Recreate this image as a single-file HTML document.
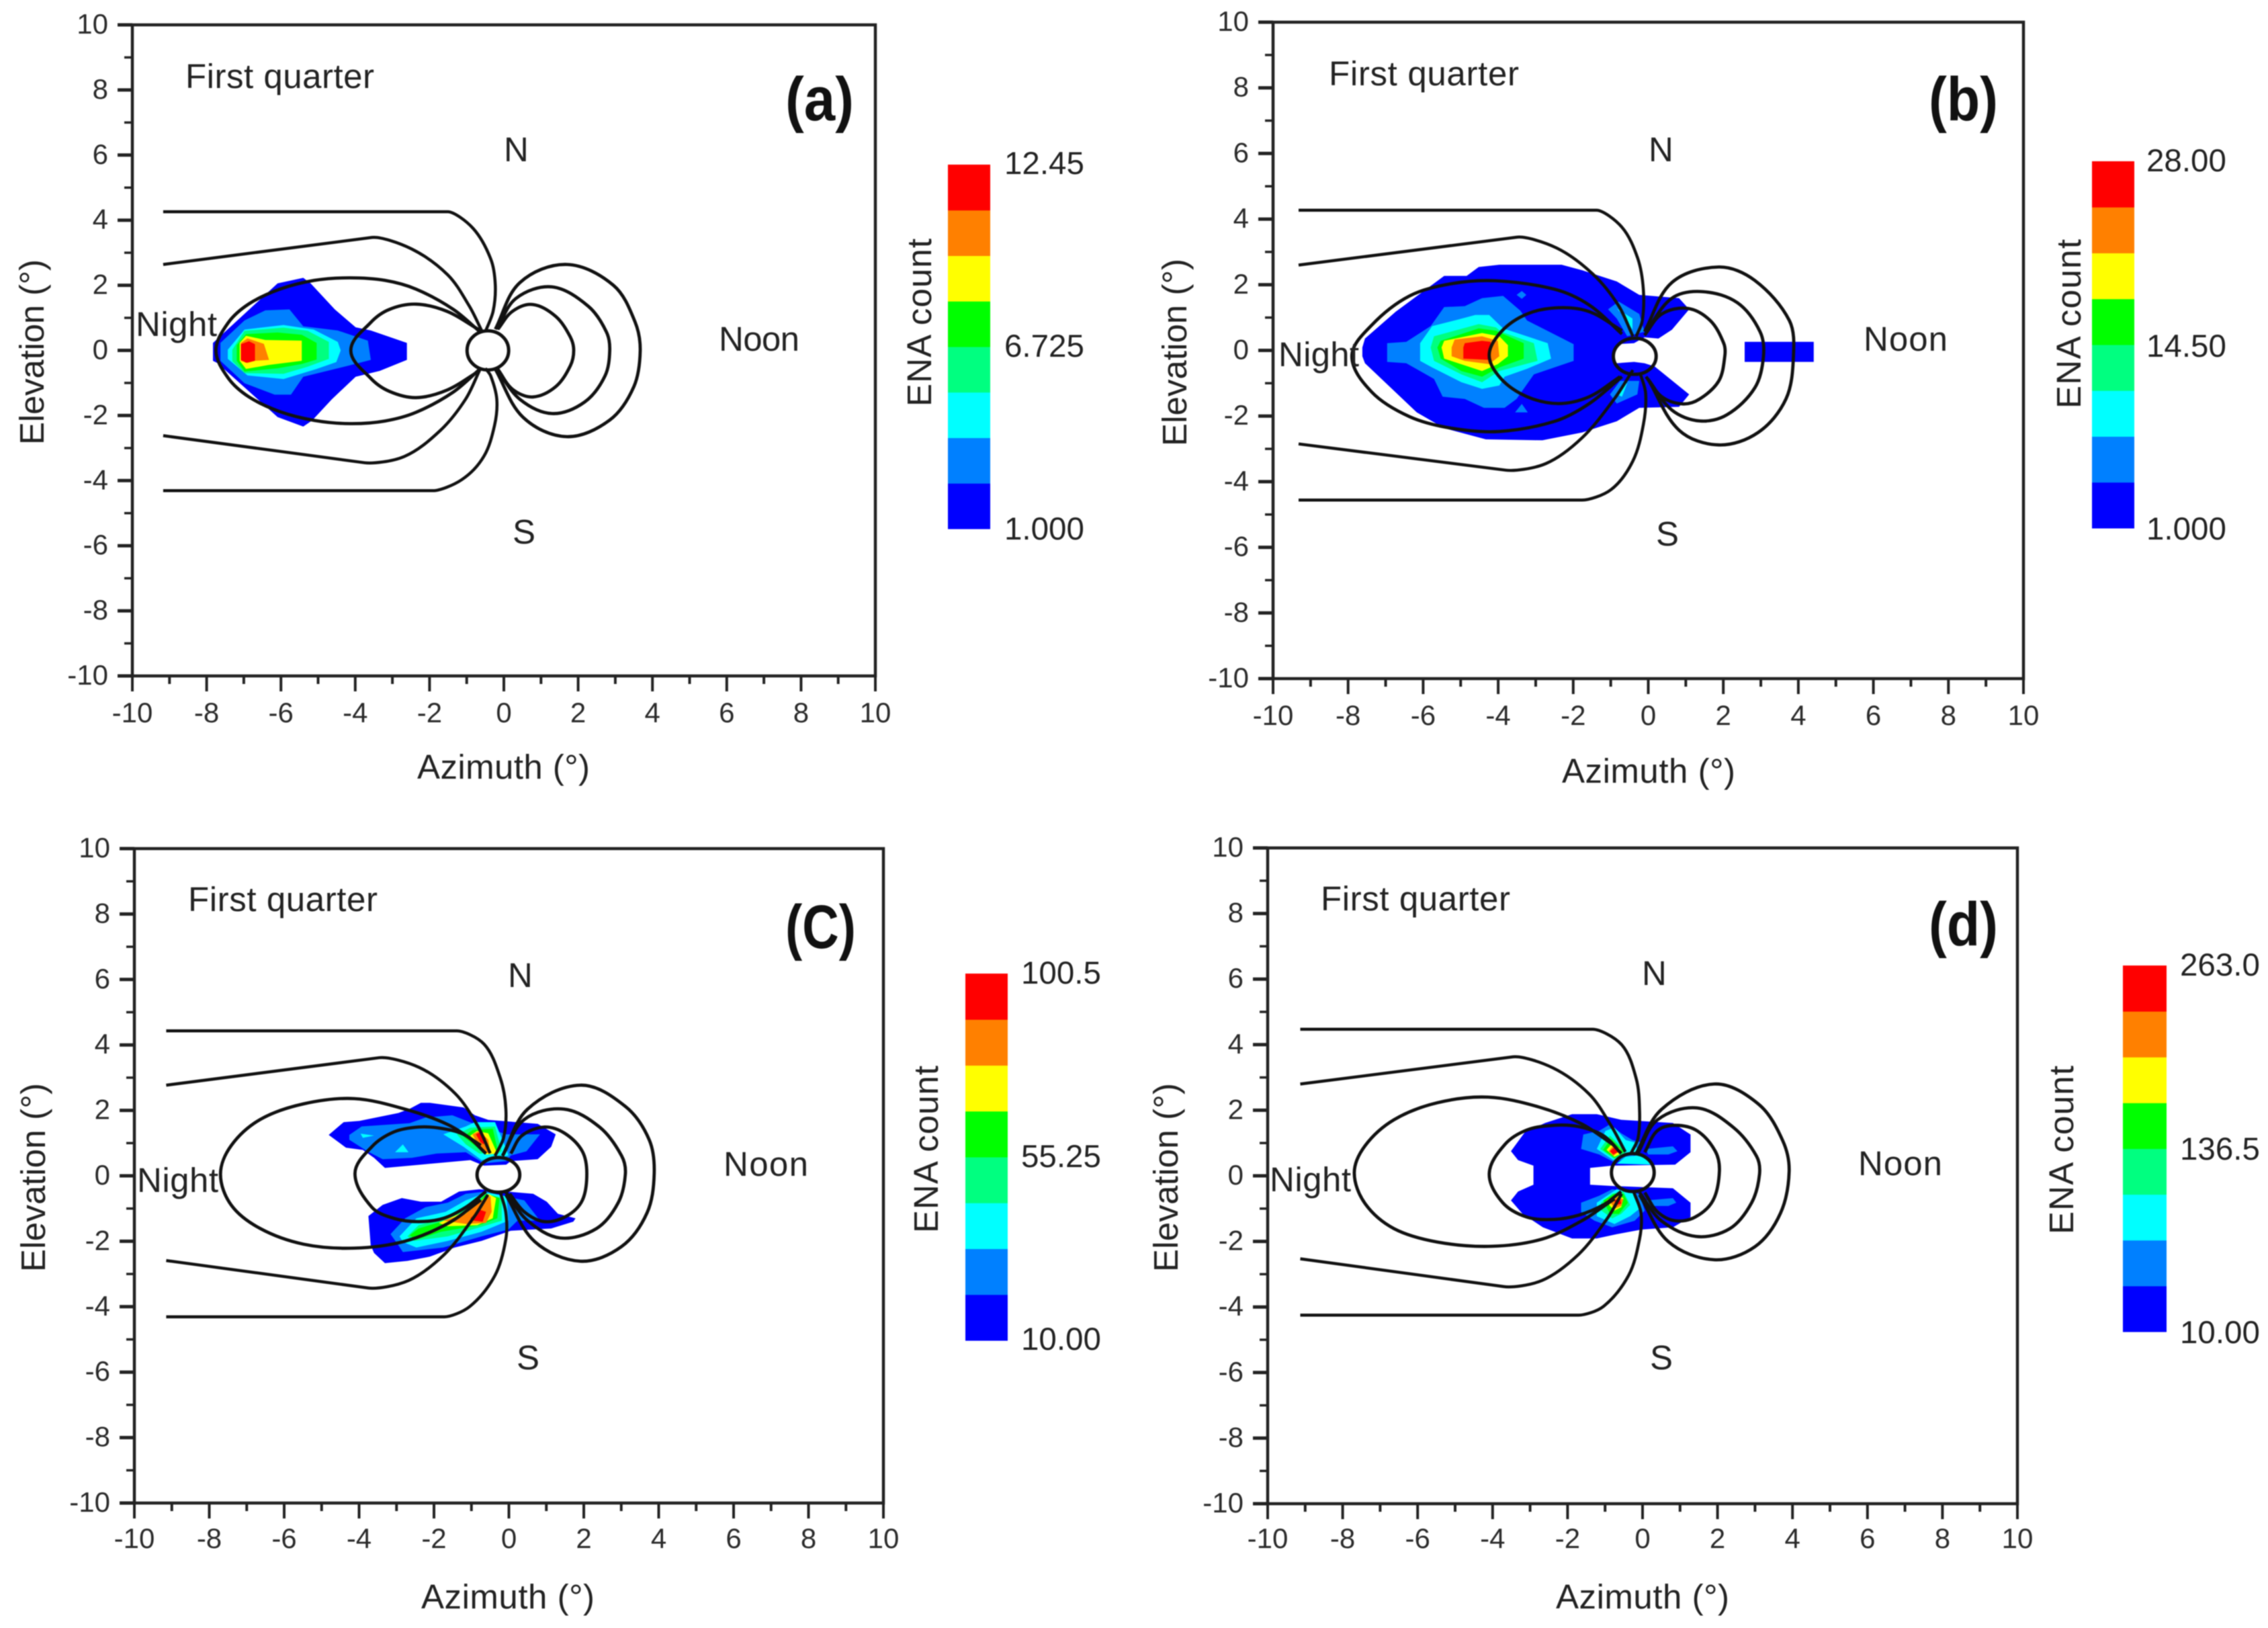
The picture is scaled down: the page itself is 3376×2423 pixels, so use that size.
<!DOCTYPE html>
<html lang="en">
<head>
<meta charset="utf-8">
<title>ENA count images, first quarter</title>
<style>
html,body{margin:0;padding:0;background:#fff;}
svg{display:block;filter:blur(.7px);}
text{font-family:"Liberation Sans",Arial,sans-serif;fill:#222;}
.lab{font-size:51px;}
.cb{font-size:47.5px;}
.tag{font-size:92px;font-weight:bold;fill:#111;}
.tick{font-size:42px;fill:#2a2a2a;}
</style>
</head>
<body>
<svg id="figure" xmlns="http://www.w3.org/2000/svg" width="3376" height="2423" viewBox="0 0 3376 2423">
<rect x="0" y="0" width="3376" height="2423" fill="#fff"/>
<g id="panel-0"></g>
<g id="panel-1"></g>
<g id="panel-2"></g>
<g id="panel-3"></g>

<g>
<text class="lab" x="276" y="131" textLength="281">First quarter</text>
<text class="lab" x="750" y="240">N</text>
<text class="lab" x="763" y="809">S</text>
<text class="lab" x="202" y="500" textLength="121">Night</text>
<text class="lab" x="1070" y="522" textLength="120">Noon</text>
<text class="tag" x="1169" y="179" textLength="102" lengthAdjust="spacingAndGlyphs">(a)</text>
<text class="lab" x="621" y="1159" textLength="257">Azimuth (°)</text>
<text class="lab" transform="translate(65 662) rotate(-90)" textLength="276">Elevation (°)</text>
<text class="lab" transform="translate(1386 605) rotate(-90)" textLength="250">ENA count</text>
</g>
<g>
<text class="lab" x="1978" y="127" textLength="283">First quarter</text>
<text class="lab" x="2454" y="240">N</text>
<text class="lab" x="2465" y="812">S</text>
<text class="lab" x="1903" y="545" textLength="120">Night</text>
<text class="lab" x="2774" y="522" textLength="125">Noon</text>
<text class="tag" x="2871" y="179" textLength="103" lengthAdjust="spacingAndGlyphs">(b)</text>
<text class="lab" x="2325" y="1165" textLength="258">Azimuth (°)</text>
<text class="lab" transform="translate(1766 664) rotate(-90)" textLength="279">Elevation (°)</text>
<text class="lab" transform="translate(3097 608) rotate(-90)" textLength="252">ENA count</text>
</g>
<g>
<text class="lab" x="280" y="1356" textLength="282">First quarter</text>
<text class="lab" x="756" y="1469">N</text>
<text class="lab" x="769" y="2038">S</text>
<text class="lab" x="204" y="1774" textLength="121">Night</text>
<text class="lab" x="1077" y="1750" textLength="126">Noon</text>
<text class="tag" x="1169" y="1411" textLength="105" lengthAdjust="spacingAndGlyphs">(C)</text>
<text class="lab" x="627" y="2394" textLength="258">Azimuth (°)</text>
<text class="lab" transform="translate(67 1893) rotate(-90)" textLength="281">Elevation (°)</text>
<text class="lab" transform="translate(1396 1835) rotate(-90)" textLength="249">ENA count</text>
</g>
<g>
<text class="lab" x="1966" y="1355" textLength="282">First quarter</text>
<text class="lab" x="2444" y="1466">N</text>
<text class="lab" x="2456" y="2038">S</text>
<text class="lab" x="1890" y="1773" textLength="121">Night</text>
<text class="lab" x="2766" y="1749" textLength="125">Noon</text>
<text class="tag" x="2871" y="1407" textLength="103" lengthAdjust="spacingAndGlyphs">(d)</text>
<text class="lab" x="2316" y="2394" textLength="258">Azimuth (°)</text>
<text class="lab" transform="translate(1753 1893) rotate(-90)" textLength="281">Elevation (°)</text>
<text class="lab" transform="translate(3086 1837) rotate(-90)" textLength="251">ENA count</text>
</g>
</svg>

<script>
// ---- axis data ----
const axisTicks = [-10,-9,-8,-7,-6,-5,-4,-3,-2,-1,0,1,2,3,4,5,6,7,8,9,10];
const axisTickLabels = ['-10','-8','-6','-4','-2','0','2','4','6','8','10'];

// ---- colour bar data (bottom to top) ----
const levelColors = ['#0000ff','#0080ff','#00ffff','#00ff80','#00ff00','#ffff00','#ff8000','#ff0000'];
const colorbarLabelsA = ['12.45','6.725','1.000'];
const colorbarLabelsB = ['28.00','14.50','1.000'];
const colorbarLabelsC = ['100.5','55.25','10.00'];
const colorbarLabelsD = ['263.0','136.5','10.00'];

// ---- filled contours: [level index, [azimuth, elevation] vertices] ----
const contoursA = [
[0,[[-7.83,.23],[-6.09,2.06],[-5.4,2.23],[-5.2,2.06],[-4.55,1.26],[-3.99,.71],[-3.58,.61],[-2.61,.23],[-2.61,-.29],[-3.34,-.63],[-3.99,-.81],[-4.63,-1.5],[-5.16,-2.15],[-5.4,-2.34],[-6.09,-2.05],[-7.71,-.39],[-7.83,-.32]]],
[1,[[-7.63,.23],[-6.98,.92],[-6.42,1.23],[-5.77,1.26],[-5.4,.74],[-4.47,.61],[-3.66,.3],[-3.58,-.29],[-4.15,-.46],[-5.4,-.81],[-5.73,-1.36],[-6.17,-1.36],[-6.98,-1.01],[-7.63,-.32]]],
[2,[[-7.43,.02],[-6.98,.64],[-5.93,.78],[-5.12,.64],[-4.47,.26],[-4.39,0],[-4.51,-.36],[-5.04,-.57],[-5.93,-.88],[-6.9,-.77],[-7.43,-.26]]],
[3,[[-7.31,.02],[-6.98,.6],[-5.93,.7],[-5.28,.6],[-4.71,.26],[-4.71,-.26],[-5.28,-.5],[-5.93,-.72],[-6.98,-.7],[-7.31,-.33]]],
[4,[[-7.19,.16],[-6.94,.5],[-6.09,.55],[-5.44,.48],[-5.04,.23],[-5.04,-.28],[-5.44,-.42],[-6.09,-.55],[-6.98,-.65],[-7.19,-.32]]],
[5,[[-7.11,.23],[-6.94,.45],[-6.42,.32],[-5.44,.3],[-5.44,-.32],[-6.34,-.45],[-6.94,-.57],[-7.11,-.32]]],
[6,[[-7.08,.23],[-6.9,.37],[-6.46,.2],[-6.32,-.29],[-6.7,-.32],[-6.9,-.39],[-7.08,-.32]]],
[7,[[-7.08,.19],[-6.86,.28],[-6.7,.19],[-6.7,-.32],[-6.94,-.38],[-7.08,-.29]]]
];
const contoursB = [
[0,[[-7.62,.09],[-7.55,.36],[-6.73,1.18],[-5.44,2.27],[-4.84,2.27],[-4.52,2.54],[-3.97,2.61],[-2.31,2.61],[-1.76,2.44],[-.84,2.1],[-.24,1.69],[.82,1.59],[1.09,1.25],[.63,.63],[.27,.36],[-.1,.4],[-.38,.22],[-.84,.19],[-.95,-.12],[-.84,-.39],[-.38,-.35],[-.1,-.39],[.17,-.49],[1.09,-1.34],[.82,-1.72],[-.24,-1.75],[-.84,-2.16],[-1.76,-2.5],[-2.82,-2.74],[-4.33,-2.71],[-5.44,-2.37],[-6.17,-1.89],[-7.55,-.39],[-7.62,-.18]]],
[0,[[2.57,.26],[4.41,.26],[4.41,-.35],[2.57,-.35]]],
[1,[[-6.96,.22],[-6.45,.26],[-5.8,.74],[-5.44,1.32],[-4.89,1.35],[-4.43,1.59],[-3.87,1.66],[-3.41,1.21],[-3.23,.91],[-1.99,.19],[-1.99,-.32],[-3.05,-.73],[-3.51,-1.48],[-3.83,-1.75],[-4.38,-1.75],[-4.89,-1.48],[-5.48,-1.41],[-5.71,-.87],[-6.45,-.39],[-6.96,-.35]]],
[1,[[-1.07,1.25],[-.79,1.49],[-.24,1.11],[-.1,.57],[-.56,.43],[-.84,.97]]],
[1,[[-1.02,-1.34],[-.75,-.93],[-.24,-.93],[-.29,-1.34],[-.84,-1.62]]],
[1,[[-3.51,1.69],[-3.37,1.81],[-3.25,1.69],[-3.37,1.57]]],
[1,[[-3.55,-1.89],[-3.37,-1.63],[-3.21,-1.89]]],
[2,[[-.84,1.28],[-.42,.97],[-.42,.63],[-.65,1.05]]],
[2,[[-.7,-1.07],[-.56,-1.0],[-.7,-1.41],[-.84,-1.34]]],
[2,[[-6.08,.22],[-5.76,.74],[-5.07,.94],[-4.61,1.08],[-4.24,1.08],[-3.87,.67],[-2.68,.22],[-2.59,-.25],[-3.23,-.56],[-3.83,-.8],[-3.97,-1.07],[-4.43,-1.17],[-4.98,-.97],[-5.76,-.52],[-6.08,-.32]]],
[3,[[-5.8,.09],[-5.71,.43],[-4.52,.8],[-4.06,.7],[-3.92,.57],[-3.05,.22],[-2.95,-.32],[-3.97,-.63],[-4.43,-.97],[-4.98,-.73],[-5.71,-.32]]],
[4,[[-5.62,.09],[-5.53,.29],[-4.52,.67],[-4.06,.6],[-3.32,.22],[-3.32,-.25],[-3.97,-.52],[-4.43,-.8],[-4.98,-.63],[-5.53,-.25]]],
[5,[[-5.51,.09],[-5.44,.29],[-4.43,.53],[-3.97,.43],[-3.74,.16],[-3.74,-.18],[-4.01,-.42],[-4.43,-.63],[-5.44,-.25]]],
[6,[[-5.24,.09],[-5.16,.33],[-4.43,.43],[-4.01,.29],[-3.97,-.18],[-4.24,-.42],[-4.89,-.32],[-5.24,-.18]]],
[7,[[-4.93,.09],[-4.89,.22],[-4.43,.29],[-4.2,.26],[-4.2,-.29],[-4.93,-.25]]]
];
const contoursC = [
[0,[[-4.81,1.25],[-4.41,1.64],[-3.99,1.68],[-2.95,1.92],[-2.65,2.05],[-2.35,2.23],[-2.11,2.23],[-1.21,2.09],[-.91,1.85],[-.55,1.71],[.77,1.59],[1.25,1.27],[1.13,.89],[.77,.51],[.05,.45],[-.07,.34],[-.67,.31],[-1.03,.48],[-1.99,.38],[-3.31,.24],[-3.6,.55],[-3.9,.79],[-4.35,.86]]],
[1,[[-4.26,1.25],[-3.93,1.51],[-2.65,1.61],[-2.23,1.78],[-1.51,1.85],[-.91,1.58],[-.07,1.27],[.83,1.27],[.47,.75],[.05,.62],[-.07,.45],[-.67,.38],[-1.15,.72],[-1.93,.68],[-2.59,.55],[-3.37,.51],[-3.78,.75],[-4.26,1.1]]],
[2,[[-3.96,1.29],[-3.6,1.23],[-3.9,1.16]]],
[2,[[-3.04,.72],[-2.83,.96],[-2.68,.72]]],
[2,[[-1.75,1.27],[-1.15,1.51],[-.91,1.64],[-.37,1.64],[-.07,.82],[-.01,.62],[-.31,.55],[-.73,.48],[-1.21,.89]]],
[3,[[-1.39,1.27],[-1.03,1.47],[-.37,1.51],[-.19,.75],[-.31,.68],[-.79,.68],[-1.15,.96]]],
[4,[[-1.21,1.2],[-.97,1.4],[-.43,1.44],[-.28,.68],[-.61,.65],[-1.03,1.03]]],
[5,[[-1.03,1.23],[-.85,1.37],[-.55,1.3],[-.31,.68],[-.61,.65],[-.88,.96]]],
[6,[[-.97,1.27],[-.79,1.37],[-.55,1.1],[-.49,.68],[-.64,.72],[-.85,1.0]]],
[7,[[-.88,1.27],[-.73,1.36],[-.61,1.13],[-.67,.96],[-.76,1.03]]],
[0,[[-3.75,-1.23],[-3.37,-.89],[-2.86,-.68],[-2.35,-.79],[-1.81,-.79],[-1.33,-.48],[-.79,-.41],[.65,-.55],[1.01,-.79],[1.31,-1.16],[1.78,-1.3],[1.72,-1.4],[1.13,-1.61],[.05,-1.68],[-.73,-1.99],[-1.45,-2.19],[-2.11,-2.47],[-2.71,-2.6],[-3.31,-2.67],[-3.6,-2.36],[-3.69,-2.12]]],
[1,[[-3.16,-1.78],[-2.77,-1.3],[-2.23,-.96],[-1.63,-.82],[-1.15,-.55],[-.61,-.48],[-.13,-.62],[.41,-.75],[.83,-1.37],[.23,-1.37],[-.01,-1.64],[-.73,-1.85],[-1.75,-2.19],[-2.83,-2.33],[-2.95,-2.12]]],
[2,[[-2.92,-1.85],[-2.47,-1.3],[-1.69,-1.1],[-1.15,-.75],[-.61,-.51],[-.07,-.62],[-.01,-1.37],[-.73,-1.71],[-1.63,-1.99],[-2.47,-2.19],[-2.83,-2.02]]],
[3,[[-2.71,-1.85],[-2.41,-1.51],[-1.75,-1.3],[-1.09,-.96],[-.61,-.55],[-.19,-.68],[-.19,-1.37],[-.79,-1.58],[-1.63,-1.85],[-2.53,-1.99]]],
[4,[[-2.65,-1.82],[-2.41,-1.61],[-1.81,-1.4],[-1.03,-1.1],[-.61,-.55],[-.25,-.68],[-.31,-1.3],[-.79,-1.51],[-1.81,-1.71],[-2.47,-1.95]]],
[5,[[-1.87,-1.44],[-1.39,-1.2],[-.91,-.96],[-.55,-.55],[-.34,-.68],[-.43,-1.3],[-.85,-1.51],[-1.63,-1.54]]],
[6,[[-1.75,-1.37],[-1.15,-1.16],[-.73,-.75],[-.49,-.62],[-.46,-1.1],[-.61,-1.44],[-1.15,-1.47]]],
[7,[[-1.03,-1.3],[-.79,-1.03],[-.61,-1.1],[-.7,-1.4],[-.94,-1.37]]]
];
const contoursD = [
[0,[[-3.51,.75],[-3.14,1.33],[-2.6,1.61],[-1.88,1.88],[-1.22,1.88],[-.57,1.71],[.81,1.61],[1.28,1.26],[1.28,.72],[.87,.34],[-.81,.31],[-1.4,.24],[-1.4,-.27],[-.81,-.31],[.81,-.38],[1.28,-.82],[1.28,-1.26],[.81,-1.57],[-.03,-1.64],[-.69,-1.78],[-1.22,-1.91],[-1.88,-1.91],[-2.66,-1.57],[-3.2,-1.16],[-3.51,-.75],[-3.32,-.48],[-2.91,-.27],[-2.91,.31],[-3.32,.48]]],
[1,[[-1.64,.82],[-1.58,1.26],[-1.16,1.37],[-.87,1.57],[-.57,1.3],[-.27,1.09],[-.03,1.02],[-.09,.68],[-.75,.41],[-1.16,.65]]],
[1,[[.09,.82],[.81,.9],[.93,.75],[.69,.65],[.15,.65]]],
[1,[[-1.64,-.82],[-1.16,-.61],[-.81,-.41],[-.45,-.48],[-.09,-.55],[.06,-1.06],[-.21,-1.37],[-.81,-1.57],[-1.28,-1.37],[-1.64,-1.1]]],
[1,[[.09,-.75],[.81,-.68],[.9,-.82],[.69,-.92],[.21,-.92]]],
[2,[[-.69,.37],[-.45,.58],[.03,.65],[.21,.34]]],
[2,[[-1.22,.82],[-.99,1.37],[-.75,1.47],[-.45,1.09],[-.21,1.02],[-.12,.72],[-.57,.61],[-.78,.48]]],
[2,[[-1.22,-.82],[-.87,-.55],[-.69,-.41],[-.21,-.55],[-.03,-.96],[-.33,-1.23],[-.75,-1.47],[-1.22,-1.23]]],
[3,[[-1.13,.82],[-.87,1.23],[-.57,.89],[-.45,.72],[-.75,.51]]],
[3,[[-1.11,-.82],[-.81,-.55],[-.51,-.48],[-.33,-.89],[-.57,-1.16],[-.81,-1.3],[-1.1,-1.06]]],
[4,[[-1.05,.79],[-.84,1.13],[-.57,.82],[-.51,.72],[-.75,.55]]],
[4,[[-1.05,-.75],[-.75,-.55],[-.51,-.55],[-.39,-.82],[-.63,-1.16],[-.87,-1.16]]],
[5,[[-.96,.79],[-.81,.99],[-.6,.82],[-.57,.68],[-.75,.58]]],
[5,[[-.96,-.75],[-.69,-.58],[-.51,-.68],[-.57,-.96],[-.75,-1.06],[-.87,-.92]]],
[6,[[-.9,.75],[-.78,.92],[-.63,.75],[-.78,.61]]],
[6,[[-.87,-.79],[-.66,-.65],[-.51,-.72],[-.57,-.92],[-.72,-.99],[-.81,-.89]]],
[7,[[-.87,.75],[-.75,.87],[-.66,.72],[-.78,.65]]],
[7,[[-.75,-.75],[-.6,-.68],[-.57,-.85],[-.72,-.9]]]
];

// ---- tail field lines: the first segment is straight, the rest is a smooth curve ----
const tailLinesA = [
[[-9.17,4.26],[-1.51,4.26],[-.83,3.75],[-.35,2.8],[-.23,2.0],[-.29,1.2],[-.5,.57]],
[[-9.17,-4.31],[-1.9,-4.31],[-1.13,-3.97],[-.54,-3.26],[-.25,-2.3],[-.19,-1.5],[-.35,-.79],[-.5,-.55]],
[[-9.17,2.64],[-3.55,3.47],[-2.49,3.12],[-1.51,2.32],[-.93,1.36],[-.58,.57]],
[[-9.17,-2.62],[-3.75,-3.45],[-2.68,-3.26],[-1.71,-2.46],[-1.03,-1.5],[-.64,-.58]]
];
const tailLinesB = [
[[-9.32,4.27],[-1.38,4.27],[-.7,3.75],[-.28,2.8],[-.13,1.85],[-.16,.9],[-.32,.43]],
[[-9.32,-4.56],[-1.76,-4.56],[-.99,-4.24],[-.41,-3.37],[-.13,-2.26],[-.07,-1.31],[-.22,-.68]],
[[-9.32,2.6],[-3.5,3.45],[-2.44,3.12],[-1.48,2.33],[-.8,1.38],[-.41,.43]],
[[-9.32,-2.85],[-3.79,-3.65],[-2.73,-3.45],[-1.76,-2.66],[-.9,-1.47],[-.41,-.6]]
];
const tailLinesC = [
[[-9.15,4.43],[-1.39,4.43],[-.66,4.02],[-.23,2.99],[-.08,2.04],[-.14,1.17],[-.37,.61]],
[[-9.15,-4.31],[-1.72,-4.31],[-1.04,-3.99],[-.37,-3.04],[-.08,-1.93],[-.08,-1.13],[-.23,-.5]],
[[-9.15,2.77],[-3.46,3.61],[-2.39,3.31],[-1.43,2.51],[-.85,1.56],[-.5,.69]],
[[-9.15,-2.59],[-3.75,-3.43],[-2.68,-3.2],[-1.72,-2.4],[-.95,-1.29],[-.56,-.58]]
];
const tailLinesD = [
[[-9.13,4.47],[-1.33,4.47],[-.56,4.0],[-.17,2.97],[-.08,2.02],[-.12,1.15],[-.31,.68]],
[[-9.13,-4.25],[-1.71,-4.25],[-1.04,-3.98],[-.37,-3.03],[-.08,-1.93],[-.04,-1.14],[-.23,-.51]],
[[-9.13,2.8],[-3.45,3.63],[-2.39,3.29],[-1.43,2.5],[-.85,1.55],[-.46,.73]],
[[-9.13,-2.53],[-3.7,-3.38],[-2.68,-3.19],[-1.71,-2.4],[-.94,-1.3],[-.56,-.55]]
];

// ---- closed dipole loops, root to root ----
const loopsA = [
[[-.62,.55],[-1.36,1.26],[-2.36,1.88],[-3.2,2.15],[-4.15,2.23],[-5.1,2.15],[-6.03,1.88],[-6.86,1.43],[-7.42,.85],[-7.75,0],[-7.42,-.85],[-6.86,-1.43],[-6.03,-1.88],[-5.1,-2.15],[-4.15,-2.25],[-3.2,-2.17],[-2.36,-1.9],[-1.36,-1.28],[-.62,-.55]],
[[-.65,.62],[-1.53,1.2],[-2.36,1.42],[-3.08,1.26],[-3.59,.85],[-4.12,0],[-3.59,-.85],[-3.08,-1.26],[-2.36,-1.45],[-1.53,-1.22],[-.65,-.62]],
[[-.16,.65],[.23,1.2],[.78,1.41],[1.4,1.04],[1.79,.41],[1.88,0],[1.79,-.47],[1.4,-1.11],[.78,-1.43],[.23,-1.19],[-.16,-.58]],
[[-.19,.65],[.33,1.6],[1.3,1.95],[2.27,1.36],[2.76,.57],[2.85,0],[2.72,-.79],[2.17,-1.59],[1.3,-1.94],[.43,-1.5],[-.19,-.58]],
[[-.23,.65],[.43,2.08],[1.69,2.64],[2.95,2.0],[3.53,.88],[3.67,0],[3.5,-1.11],[2.85,-2.14],[1.69,-2.65],[.52,-2.06],[-.23,-.58]]
];
const loopsB = [
[[-.7,.5],[-1.57,1.38],[-2.49,1.86],[-4.06,2.12],[-5.25,2.03],[-6.36,1.66],[-7.37,.77],[-7.9,-.18],[-7.37,-1.27],[-6.36,-2.02],[-5.25,-2.37],[-3.97,-2.47],[-2.49,-2.16],[-1.57,-1.62],[-.7,-.8]],
[[-.7,.6],[-1.57,1.18],[-2.4,1.3],[-3.23,1.11],[-3.92,.57],[-4.24,-.15],[-3.92,-.87],[-3.23,-1.41],[-2.4,-1.62],[-1.57,-1.41],[-.75,-.8]],
[[-.1,.46],[.36,1.11],[1.05,1.28],[1.65,.91],[2.01,.22],[2.04,-.18],[1.88,-.93],[1.37,-1.48],[.91,-1.63],[.36,-1.41],[-.06,-.8]],
[[-.06,.57],[.63,1.59],[1.46,1.79],[2.38,1.45],[2.98,.57],[3.07,-.18],[2.84,-1.14],[2.1,-1.96],[1.37,-2.15],[.63,-1.82],[-.01,-.87]],
[[-.1,.57],[.63,2.07],[1.88,2.54],[2.84,2.13],[3.76,.91],[3.87,-.18],[3.67,-1.48],[2.93,-2.5],[1.88,-2.88],[.82,-2.43],[-.01,-.87]]
];
const loopsC = [
[[-.75,.93],[-1.62,1.56],[-2.78,2.04],[-4.13,2.36],[-5.48,2.2],[-6.64,1.72],[-7.41,.93],[-7.7,.05],[-7.41,-.9],[-6.64,-1.61],[-5.48,-2.09],[-4.13,-2.21],[-2.78,-2.0],[-1.62,-1.45],[-.75,-.74]],
[[-.61,.68],[-1.15,1.23],[-1.75,1.44],[-2.41,1.49],[-3.07,1.34],[-3.66,.89],[-4.11,.07],[-3.66,-.96],[-3.07,-1.3],[-2.41,-1.4],[-1.75,-1.3],[-1.15,-.96],[-.61,-.48]],
[[.05,.68],[.35,1.23],[.95,1.49],[1.49,1.3],[1.96,.75],[2.08,.07],[1.96,-.75],[1.54,-1.23],[.95,-1.4],[.41,-1.1],[.02,-.55]],
[[-.17,.61],[.41,1.72],[1.47,2.04],[2.43,1.48],[3.01,.61],[3.11,.06],[2.92,-.82],[2.34,-1.61],[1.37,-1.9],[.5,-1.37],[-.08,-.5]],
[[-.17,.61],[.5,2.04],[1.91,2.77],[3.11,2.12],[3.75,1.09],[3.88,.06],[3.69,-1.13],[3.01,-2.16],[1.91,-2.61],[.69,-2.01],[-.08,-.58]]
];
const loopsD = [
[[-.75,.92],[-1.62,1.58],[-2.77,2.1],[-4.12,2.4],[-5.47,2.23],[-6.63,1.71],[-7.4,.92],[-7.69,.09],[-7.4,-.85],[-6.63,-1.61],[-5.47,-2.02],[-4.03,-2.15],[-2.68,-1.93],[-1.62,-1.37],[-.75,-.7]],
[[-.57,.68],[-1.05,1.23],[-1.7,1.5],[-2.36,1.54],[-3.08,1.4],[-3.67,.96],[-4.09,.07],[-3.73,-.82],[-3.08,-1.26],[-2.36,-1.33],[-1.7,-1.2],[-1.05,-.89],[-.57,-.48]],
[[.06,.72],[.39,1.37],[.87,1.54],[1.46,1.37],[1.94,.75],[2.05,.14],[1.88,-.75],[1.4,-1.26],[.87,-1.37],[.39,-1.09],[.06,-.51]],
[[-.13,.68],[.4,1.71],[1.46,2.07],[2.43,1.47],[3.04,.6],[3.12,.05],[2.91,-.82],[2.33,-1.61],[1.43,-1.85],[.5,-1.37],[-.08,-.51]],
[[-.17,.68],[.5,2.02],[1.91,2.8],[3.1,2.18],[3.74,1.07],[3.91,.13],[3.68,-1.14],[3.0,-2.16],[1.91,-2.56],[.69,-2.01],[-.08,-.58]]
];

// ---- Earth disc: azimuth, elevation, radius in azimuth, radius in elevation ----
const earthA = [-.43,0,.56,.6];
const earthB = [-.36,-.18,.57,.55];
const earthC = [-.28,.03,.57,.53];
const earthD = [-.26,.1,.57,.58];

// ---- layout (pixels), not data ----
const plotBoxes = [[197,1303,37,1006],[1895,3012,33,1010],[200,1315,1263,2237],[1887,3003,1262,2238]];
const barBoxes = [[1411,1474,245,787],[3114,3177,240,786],[1437,1500,1449,1995],[3160,3225,1437,1982]];
const barTextX = [1495,3195,1520,3245];
const barTextY = [[259,531,803],[255,531,803],[1464,1737,2009],[1452,1726,1999]];
const tickTextBaselineX = [1075,1079,2304,2304];
const panelContours = [contoursA,contoursB,contoursC,contoursD];
const panelTails = [tailLinesA,tailLinesB,tailLinesC,tailLinesD];
const panelLoops = [loopsA,loopsB,loopsC,loopsD];
const panelEarths = [earthA,earthB,earthC,earthD];
const panelBarLabels = [colorbarLabelsA,colorbarLabelsB,colorbarLabelsC,colorbarLabelsD];

const SVGNS = 'http://www.w3.org/2000/svg';
function mk(tag,parent){
  const el=document.createElementNS(SVGNS,tag);
  parent.appendChild(el);
  return el;
}
// Tangent at knot i: unit direction between its neighbours.
function tangent(a,b){
  const dx=b[0]-a[0],dy=b[1]-a[1],len=Math.hypot(dx,dy)||1;
  return [dx/len,dy/len];
}
// Spline with handles scaled to each segment's own length, which keeps
// unevenly spaced knots from producing shoulders or overshoot.
function smooth(pts,straightFirst){
  let d='M'+pts[0][0].toFixed(1)+' '+pts[0][1].toFixed(1);
  let start=0;
  if(straightFirst){
    d+='L'+pts[1][0].toFixed(1)+' '+pts[1][1].toFixed(1);
    start=1;
  }
  for(let i=start;i<pts.length-1;i++){
    const p1=pts[i],p2=pts[i+1];
    const seg=Math.hypot(p2[0]-p1[0],p2[1]-p1[1]);
    let t1,k1=.33;
    if(straightFirst&&i===1){
      t1=tangent(pts[0],pts[1]);
      k1=.2;
    }else if(i===0){
      t1=tangent(p1,p2);
    }else{
      t1=tangent(pts[i-1],p2);
    }
    const t2=(i+2<pts.length)?tangent(p1,pts[i+2]):tangent(p1,p2);
    const c1x=p1[0]+t1[0]*seg*k1,c1y=p1[1]+t1[1]*seg*k1;
    const c2x=p2[0]-t2[0]*seg*.33,c2y=p2[1]-t2[1]*seg*.33;
    d+='C'+c1x.toFixed(1)+' '+c1y.toFixed(1)+' '+c2x.toFixed(1)+' '+c2y.toFixed(1)+' '+p2[0].toFixed(1)+' '+p2[1].toFixed(1);
  }
  return d;
}

plotBoxes.forEach(function(box,pi){
  const g=document.getElementById('panel-'+pi);
  const L=box[0],R=box[1],T=box[2],B=box[3];
  const sx=function(v){return L+(v+10)/20*(R-L);};
  const sy=function(v){return B-(v+10)/20*(B-T);};
  const map=function(pts){return pts.map(function(p){return [sx(p[0]),sy(p[1])];});};

  // contours
  panelContours[pi].forEach(function(c){
    const poly=mk('polygon',g);
    
    
    poly.setAttribute('points',map(c[1]).map(function(p){return p[0].toFixed(1)+','+p[1].toFixed(1);}).join(' '));
    poly.setAttribute('fill',levelColors[c[0]]);
  });

  // field lines
  panelLoops[pi].forEach(function(line){
    const path=mk('path',g);
    
    
    path.setAttribute('d',smooth(map(line),false));
    path.setAttribute('fill','none');
    path.setAttribute('stroke','#111');
    path.setAttribute('stroke-width','4.8');
  });
  panelTails[pi].forEach(function(line){
    const path=mk('path',g);
    
    
    path.setAttribute('d',smooth(map(line),true));
    path.setAttribute('fill','none');
    path.setAttribute('stroke','#111');
    path.setAttribute('stroke-width','4.5');
  });

  // Earth
  const e=panelEarths[pi];
  const earth=mk('ellipse',g);
  
  
  earth.setAttribute('cx',sx(e[0]));
  earth.setAttribute('cy',sy(e[1]));
  earth.setAttribute('rx',e[2]*(R-L)/20);
  earth.setAttribute('ry',e[3]*(B-T)/20);
  earth.setAttribute('fill','none');
  earth.setAttribute('stroke','#111');
  earth.setAttribute('stroke-width','5');

  // frame
  const frame=mk('rect',g);
  
  
  frame.setAttribute('x',L);
  frame.setAttribute('y',T);
  frame.setAttribute('width',R-L);
  frame.setAttribute('height',B-T);
  frame.setAttribute('fill','none');
  frame.setAttribute('stroke','#222');
  frame.setAttribute('stroke-width','4.5');

  // ticks
  axisTicks.forEach(function(v){
    const major=(v%2===0);
    const xt=mk('line',g);
    
    
    xt.setAttribute('x1',sx(v));
    xt.setAttribute('x2',sx(v));
    xt.setAttribute('y1',B);
    xt.setAttribute('y2',B+(major?23:12));
    xt.setAttribute('stroke','#222');
    xt.setAttribute('stroke-width','4');
    const yt=mk('line',g);
    
    
    yt.setAttribute('x1',L);
    yt.setAttribute('x2',L-(major?22:12));
    yt.setAttribute('y1',sy(v));
    yt.setAttribute('y2',sy(v));
    yt.setAttribute('stroke','#222');
    yt.setAttribute('stroke-width',major?'5':'3.5');
  });
  axisTickLabels.forEach(function(s){
    const v=parseFloat(s);
    const xl=mk('text',g);
    
    
    xl.setAttribute('class','tick');
    xl.setAttribute('x',sx(v));
    xl.setAttribute('y',tickTextBaselineX[pi]);
    xl.setAttribute('text-anchor','middle');
    xl.textContent=s;
    const yl=mk('text',g);
    
    
    yl.setAttribute('class','tick');
    yl.setAttribute('x',L-36);
    yl.setAttribute('y',sy(v)+13);
    yl.setAttribute('text-anchor','end');
    yl.textContent=s;
  });

  // colour bar
  const bb=barBoxes[pi];
  const n=levelColors.length;
  levelColors.forEach(function(col,i){
    const cell=mk('rect',g);
    
    
    const h=(bb[3]-bb[2])/n;
    cell.setAttribute('x',bb[0]);
    cell.setAttribute('y',bb[3]-(i+1)*h);
    cell.setAttribute('width',bb[1]-bb[0]);
    cell.setAttribute('height',h+.5);
    cell.setAttribute('fill',col);
  });
  panelBarLabels[pi].forEach(function(s,i){
    const t=mk('text',g);
    
    
    t.setAttribute('class','cb');
    t.setAttribute('x',barTextX[pi]);
    t.setAttribute('y',barTextY[pi][i]);
    t.textContent=s;
  });
});
</script>
</body>
</html>
